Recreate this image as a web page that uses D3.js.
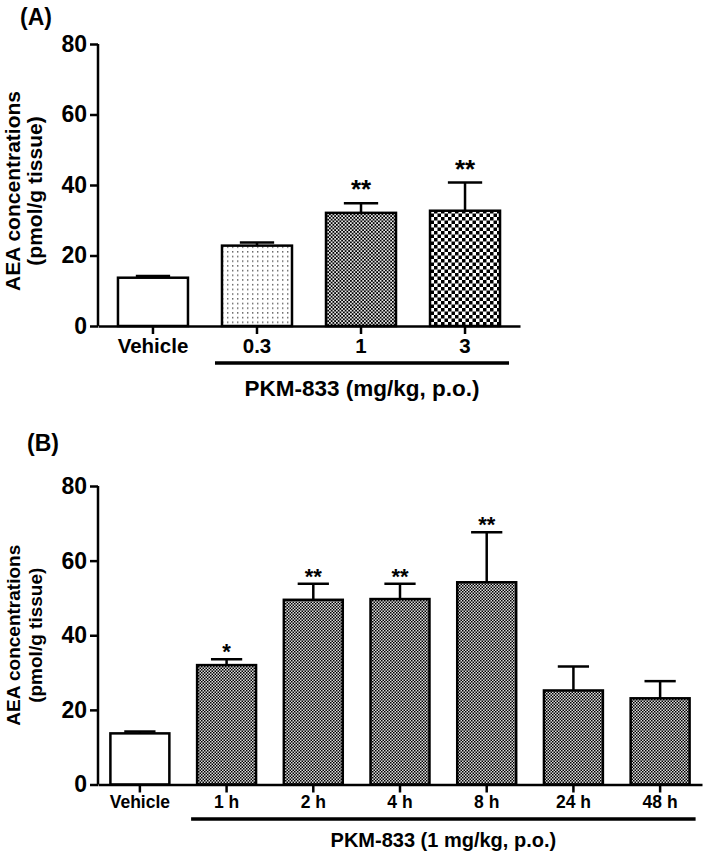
<!DOCTYPE html>
<html>
<head>
<meta charset="utf-8">
<script src="https://cdn.jsdelivr.net/npm/d3@7"></script>
<style>
  html, body { margin: 0; padding: 0; background: #fff; }
  svg { display: block; }
  text { font-family: "Liberation Sans", Arial, sans-serif; font-weight: bold; fill: #000; }
</style>
</head>
<body>
<svg id="chart" width="709" height="858"></svg>
<script>
// ---- Data ----
const catsA = ["Vehicle", "0.3", "1", "3"];
const meanA = [13.7, 22.8, 32.1, 32.7];
const semA  = [0.5, 0.9, 2.7, 8.0];
const sigA  = ["", "", "**", "**"];
const fillA = ["white", "dots", "fineChecker", "coarseChecker"];

const catsB = ["Vehicle", "1 h", "2 h", "4 h", "8 h", "24 h", "48 h"];
const meanB = [13.7, 32.0, 49.5, 49.7, 54.2, 25.2, 23.1];
const semB  = [0.5, 1.6, 4.3, 4.1, 13.4, 6.4, 4.6];
const sigB  = ["", "*", "**", "**", "**", "", ""];
const fillB = ["white", "fineChecker2", "fineChecker2", "fineChecker2", "fineChecker2", "fineChecker2", "fineChecker2"];

const yTicks = [0, 20, 40, 60, 80];
const yLabel1 = "AEA concentrations";
const yLabel2 = "(pmol/g tissue)";
const groupLabelA = "PKM-833 (mg/kg, p.o.)";
const groupLabelB = "PKM-833 (1 mg/kg, p.o.)";

const svg = d3.select("#chart");

// ---- Patterns ----
const defs = svg.append("defs");
function checker(id, size, color, bg) {
  const p = defs.append("pattern").attr("id", id).attr("patternUnits", "userSpaceOnUse")
    .attr("width", size * 2).attr("height", size * 2);
  p.append("rect").attr("width", size * 2).attr("height", size * 2).attr("fill", bg);
  p.append("rect").attr("x", 0).attr("y", 0).attr("width", size).attr("height", size).attr("fill", color);
  p.append("rect").attr("x", size).attr("y", size).attr("width", size).attr("height", size).attr("fill", color);
}
checker("fineChecker", 1.75, "#000", "#e4e4e4");
checker("fineChecker2", 1.5, "#000", "#dcdcdc");
checker("coarseChecker", 3.5, "#000", "#fff");
{
  const p = defs.append("pattern").attr("id", "dots").attr("patternUnits", "userSpaceOnUse")
    .attr("width", 5).attr("height", 4.7);
  p.append("rect").attr("width", 5).attr("height", 4.7).attr("fill", "#fff");
  p.append("rect").attr("x", 2).attr("y", 2).attr("width", 1.4).attr("height", 1.4).attr("fill", "#555");
}
const fillOf = f => f === "white" ? "#fff" : `url(#${f})`;

function panel(opts) {
  const { cats, means, sems, sigs, fills, x0, x1, yTop, yBottom, padInner, padOuter,
          tickFont, xTickFont, starFont, starGap, groupLabel, groupFont,
          bracketY, bracketPadL, bracketPadR, groupLabelY, xLabelY, panelLabel, panelLabelY,
          capFrac } = opts;

  const x = d3.scaleBand().domain(cats).range([x0, x1]).paddingInner(padInner).paddingOuter(padOuter);
  const y = d3.scaleLinear().domain([0, 80]).range([yBottom, yTop]);
  const g = svg.append("g");
  const bw = x.bandwidth();

  // bars
  g.selectAll("rect.bar").data(cats).join("rect")
    .attr("x", d => x(d))
    .attr("y", (d, i) => y(means[i]))
    .attr("width", bw)
    .attr("height", (d, i) => y(0) - y(means[i]))
    .attr("fill", (d, i) => fillOf(fills[i]))
    .attr("stroke", "#000").attr("stroke-width", 2.5);

  // error bars (upper only)
  g.selectAll("line.err").data(cats).join("line")
    .attr("x1", d => x(d) + bw / 2).attr("x2", d => x(d) + bw / 2)
    .attr("y1", (d, i) => y(means[i])).attr("y2", (d, i) => y(means[i] + sems[i]))
    .attr("stroke", "#000").attr("stroke-width", 2.5);
  g.selectAll("line.cap").data(cats).join("line")
    .attr("x1", d => x(d) + bw / 2 - bw * capFrac / 2).attr("x2", d => x(d) + bw / 2 + bw * capFrac / 2)
    .attr("y1", (d, i) => y(means[i] + sems[i])).attr("y2", (d, i) => y(means[i] + sems[i]))
    .attr("stroke", "#000").attr("stroke-width", 2.5);

  // significance stars
  g.selectAll("text.sig").data(cats).join("text")
    .attr("x", d => x(d) + bw / 2)
    .attr("y", (d, i) => y(means[i] + sems[i]) - starGap)
    .attr("text-anchor", "middle")
    .style("font-size", starFont + "px")
    .text((d, i) => sigs[i]);

  // y axis
  const ya = g.append("g").attr("transform", `translate(${x0},0)`)
    .call(d3.axisLeft(y).tickValues(yTicks).tickSize(8).tickPadding(3));
  ya.select(".domain").attr("stroke-width", 2.5).attr("d", `M0,${yTop}V${yBottom}`);
  ya.selectAll(".tick line").attr("stroke-width", 2.5);
  ya.selectAll(".tick text").style("font-size", tickFont + "px")
    .style("font-family", '"Liberation Sans", Arial, sans-serif').style("font-weight", "bold");

  // x axis
  const xa = g.append("g").attr("transform", `translate(0,${yBottom})`)
    .call(d3.axisBottom(x).tickSize(8).tickSizeOuter(0).tickPadding(6));
  xa.select(".domain").attr("stroke-width", 2.5);
  xa.selectAll(".tick line").attr("stroke-width", 2.5);
  xa.selectAll(".tick text").style("font-size", xTickFont + "px")
    .style("font-family", '"Liberation Sans", Arial, sans-serif').style("font-weight", "bold")
    .attr("dy", null).attr("y", xLabelY - yBottom);

  // group bracket
  const bx1 = x(cats[1]) - bracketPadL;
  const bx2 = x(cats[cats.length - 1]) + bw + bracketPadR;
  g.append("line").attr("x1", bx1).attr("x2", bx2).attr("y1", bracketY).attr("y2", bracketY)
    .attr("stroke", "#000").attr("stroke-width", 3.5);
  g.append("text").attr("x", (bx1 + bx2) / 2).attr("y", groupLabelY).attr("text-anchor", "middle")
    .style("font-size", groupFont + "px").text(groupLabel);

  // y label
  const ymid = (yTop + yBottom) / 2 + opts.yLabelShift;
  g.append("text").attr("transform", `translate(${opts.yLab1X},${ymid}) rotate(-90)`)
    .attr("text-anchor", "middle").style("font-size", opts.yLabFont + "px").text(yLabel1);
  g.append("text").attr("transform", `translate(${opts.yLab2X},${ymid}) rotate(-90)`)
    .attr("text-anchor", "middle").style("font-size", opts.yLabFont + "px").text(yLabel2);

  // panel label
  svg.append("text").attr("x", opts.panelLabelX).attr("y", panelLabelY)
    .style("font-size", "23px").text(panelLabel);
}

panel({
  cats: catsA, means: meanA, sems: semA, sigs: sigA, fills: fillA,
  x0: 98, x1: 520, yTop: 44, yBottom: 326, padInner: 0.327, padOuter: 0.192,
  tickFont: 23, xTickFont: 20.5, starFont: 26, starGap: 5, capFrac: 0.49,
  groupLabel: groupLabelA, groupFont: 22.5, bracketY: 363, bracketPadL: 7, bracketPadR: 9,
  groupLabelY: 396, xLabelY: 353, panelLabel: "(A)", panelLabelX: 20, panelLabelY: 25,
  yLab1X: 19.5, yLab2X: 42, yLabFont: 21, yLabelShift: 6
});

panel({
  cats: catsB, means: meanB, sems: semB, sigs: sigB, fills: fillB,
  x0: 98, x1: 702, yTop: 486, yBottom: 784.5, padInner: 0.32, padOuter: 0.143,
  tickFont: 23, xTickFont: 17.5, starFont: 22, starGap: 0, capFrac: 0.53,
  groupLabel: groupLabelB, groupFont: 20, bracketY: 819, bracketPadL: 6, bracketPadR: 6,
  groupLabelY: 847, xLabelY: 808, panelLabel: "(B)", panelLabelX: 27, panelLabelY: 451,
  yLab1X: 19.5, yLab2X: 42, yLabFont: 19, yLabelShift: 0
});
</script>
</body>
</html>
